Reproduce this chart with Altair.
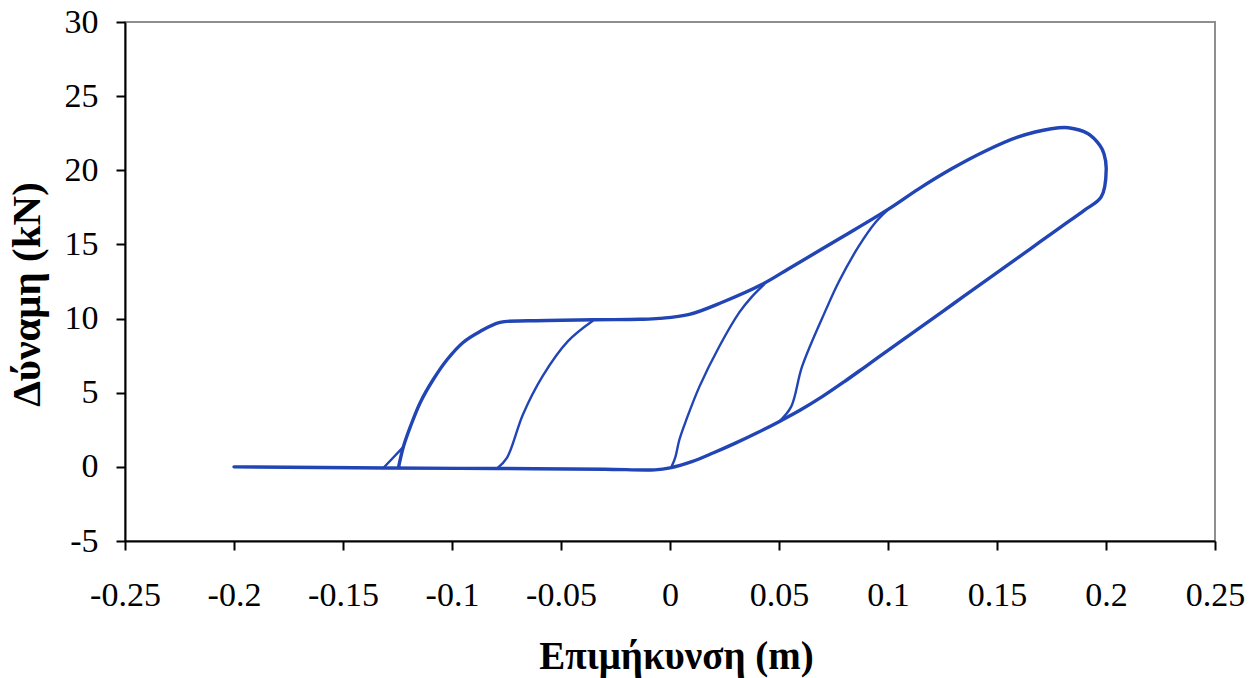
import altair as alt
import pandas as pd

# Elongation (m) and force (kN) along each traced branch of the load cycle
envelope_x = [-0.2, -0.13, -0.08, -0.03, -0.007, 0.0, 0.01, 0.02, 0.03, 0.04, 0.05, 0.06,
              0.07, 0.08, 0.09, 0.10, 0.11, 0.12, 0.13, 0.14, 0.15, 0.16, 0.17, 0.18,
              0.19, 0.1978, 0.2001, 0.1991, 0.1973, 0.1918, 0.1827, 0.1749, 0.1598,
              0.1447, 0.1292, 0.1141, 0.1004, 0.079, 0.056, 0.0423, 0.024, 0.0089,
              -0.0048, -0.0139, -0.035, -0.065, -0.078, -0.0871, -0.0949, -0.1022,
              -0.1086, -0.1146, -0.1191, -0.1223, -0.1246]
envelope_y = [0.0, -0.08, -0.11, -0.16, -0.2, -0.07, 0.35, 0.95, 1.6, 2.3, 3.05, 3.85,
              4.75, 5.75, 6.8, 7.85, 8.9, 9.95, 11.0, 12.05, 13.1, 14.15, 15.2, 16.25,
              17.3, 18.2, 20.09, 21.1, 21.65, 22.46, 22.87, 22.8, 22.25,
              21.3, 20.1, 18.75, 17.4, 15.5, 13.5, 12.31, 11.1, 10.28,
              10.01, 9.95, 9.92, 9.85, 9.74, 9.13, 8.39, 7.24,
              5.89, 4.33, 2.71, 1.35, -0.08]

kink_x = [-0.1315, -0.1223]
kink_y = [-0.08, 1.35]

reload1_x = [-0.0793, -0.0748, -0.0675, -0.0585, -0.0469, -0.0354]
reload1_y = [-0.1, 0.61, 3.52, 6.1, 8.46, 9.85]

reload2_x = [0.0007, 0.0025, 0.0043, 0.0075, 0.0135, 0.0226, 0.0318, 0.0377, 0.0432]
reload2_y = [0.0, 0.68, 1.83, 3.18, 5.41, 8.12, 10.42, 11.5, 12.31]

reload3_x = [0.0501, 0.0556, 0.0606, 0.0716, 0.0775, 0.0866, 0.0944, 0.1004]
reload3_y = [3.05, 4.06, 6.77, 10.62, 12.5, 14.88, 16.51, 17.4]

branches = [
    ("envelope", envelope_x, envelope_y, 3.4),
    ("kink", kink_x, kink_y, 2.4),
    ("reload1", reload1_x, reload1_y, 2.4),
    ("reload2", reload2_x, reload2_y, 2.4),
    ("reload3", reload3_x, reload3_y, 2.4),
]

rows = []
for name, xs, ys, w in branches:
    for i, (x, y) in enumerate(zip(xs, ys)):
        rows.append({"branch": name, "i": i, "x": x, "y": y, "w": w})
df = pd.DataFrame(rows)

x_ticks = [-0.25, -0.2, -0.15, -0.1, -0.05, 0, 0.05, 0.1, 0.15, 0.2, 0.25]
y_ticks = [-5, 0, 5, 10, 15, 20, 25, 30]

FONT = "Liberation Serif"
BLUE = "#2145b4"

x_axis = alt.Axis(
    values=x_ticks, grid=False, labelExpr="datum.value + ''",
    domainColor="black", domainWidth=2, tickColor="black", tickWidth=2, tickSize=9,
    labelFont=FONT, labelFontSize=34, labelColor="black", labelPadding=28,
    labelFlush=False, labelOverlap=False,
    title="Επιμήκυνση (m)", titleFont=FONT, titleFontSize=39, titleFontWeight="bold",
    titleColor="black", titleX=551, titleY=115, titleBaseline="middle", titleAlign="center",
)
y_axis = alt.Axis(
    values=y_ticks, grid=False, labelExpr="datum.value + ''",
    domainColor="black", domainWidth=2, tickColor="black", tickWidth=2, tickSize=9,
    labelFont=FONT, labelFontSize=34, labelColor="black", labelPadding=18,
    labelFlush=False, labelOverlap=False,
    title="Δύναμη (kN)", titleFont=FONT, titleFontSize=41, titleFontWeight="bold",
    titleColor="black", titleX=-98, titleY=272, titleAngle=270,
    titleBaseline="middle", titleAlign="center",
)

chart = (
    alt.Chart(df)
    .mark_line(color=BLUE, strokeCap="round", strokeJoin="round", interpolate="catmull-rom")
    .encode(
        x=alt.X("x:Q", scale=alt.Scale(domain=[-0.25, 0.25], nice=False, zero=False), axis=x_axis),
        y=alt.Y("y:Q", scale=alt.Scale(domain=[-5, 30], nice=False, zero=False), axis=y_axis),
        detail="branch:N",
        order="i:Q",
        strokeWidth=alt.StrokeWidth("w:Q", scale=None),
    )
    .properties(
        width=1090, height=519,
        autosize=alt.AutoSizeParams(type="none"),
        padding={"left": 125, "top": 22, "right": 40, "bottom": 137},
        background="white",
    )
    .configure_view(stroke="#8f8f8f", strokeWidth=2)
)

chart.save("out.html", embed_options={"renderer": "svg", "actions": False})
